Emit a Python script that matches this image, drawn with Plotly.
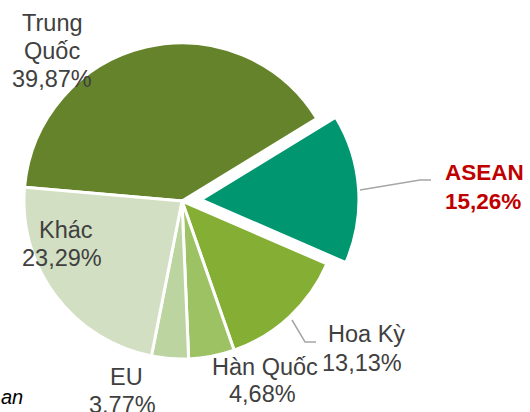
import plotly.graph_objects as go

labels = ["Trung Quốc", "ASEAN", "Hoa Kỳ", "Hàn Quốc", "EU", "Khác"]
label_lines = [["Trung", "Quốc"], ["ASEAN"], ["Hoa Kỳ"], ["Hàn Quốc"], ["EU"], ["Khác"]]
values = [39.87, 15.26, 13.13, 4.68, 3.77, 23.29]
colors = ["#64832A", "#00966F", "#84AE34", "#9DC264", "#BCD5A0", "#D2DFC2"]
pulls = [0, 0.12, 0, 0, 0, 0]

W, H = 530, 412

def px(x):
    return x / W

def py(y):
    return 1 - y / H

fig = go.Figure(go.Pie(
    labels=labels, values=values, sort=False, direction="clockwise",
    rotation=275, pull=pulls, textinfo="none", hoverinfo="label+percent",
    marker=dict(colors=colors, line=dict(color="white", width=3)),
    domain=dict(x=[px(5), px(359)], y=[py(378), py(24)]),
    showlegend=False,
))

def fmt(v):
    return f"{v:.2f}".replace(".", ",") + "%"

# per-line label centres in pixels (layout only): list of (x, y) per line
label_pos = {
    "Trung Quốc": [(52, 23), (52, 51), (52, 79)],
    "ASEAN": [(484, 173), (483, 201)],
    "Hoa Kỳ": [(366, 334), (362, 363)],
    "Hàn Quốc": [(265, 367), (262, 394)],
    "EU": [(126, 377), (122, 405)],
    "Khác": [(66, 230), (62, 258)],
}

annotations = []
for lab, lines, val in zip(labels, label_lines, values):
    texts = lines + [fmt(val)]
    for (x, y), t in zip(label_pos[lab], texts):
        if lab == "ASEAN":
            font = dict(family="Arial, Liberation Sans", size=22.5, color="#C00000")
            t = f"<b>{t}</b>"
        else:
            font = dict(family="Arial, Liberation Sans", size=23.5, color="#404040")
        annotations.append(dict(x=px(x), y=py(y), xref="paper", yref="paper",
                                text=t, showarrow=False, font=font,
                                xanchor="center", yanchor="middle", align="center"))

annotations.append(dict(x=px(-1), y=py(397), xref="paper", yref="paper",
                        text="<i>an</i>", showarrow=False,
                        font=dict(family="Arial, Liberation Sans", size=20, color="#000000"),
                        xanchor="left", yanchor="middle"))

shapes = [
    dict(type="path", xref="paper", yref="paper",
         path=f"M {px(360)} {py(190)} L {px(420)} {py(180)} L {px(431)} {py(180)}",
         line=dict(color="#A6A6A6", width=1.5)),
    dict(type="path", xref="paper", yref="paper",
         path=f"M {px(292)} {py(320)} L {px(305)} {py(342)} L {px(316)} {py(342)}",
         line=dict(color="#A6A6A6", width=1.5)),
]

fig.update_layout(
    width=W, height=H, margin=dict(l=0, r=0, t=0, b=0),
    paper_bgcolor="white", plot_bgcolor="white",
    annotations=annotations, shapes=shapes,
)

fig.write_html("out.html", config={"displayModeBar": False},
               post_script="document.body.style.margin='0px';document.body.style.overflow='hidden';")
